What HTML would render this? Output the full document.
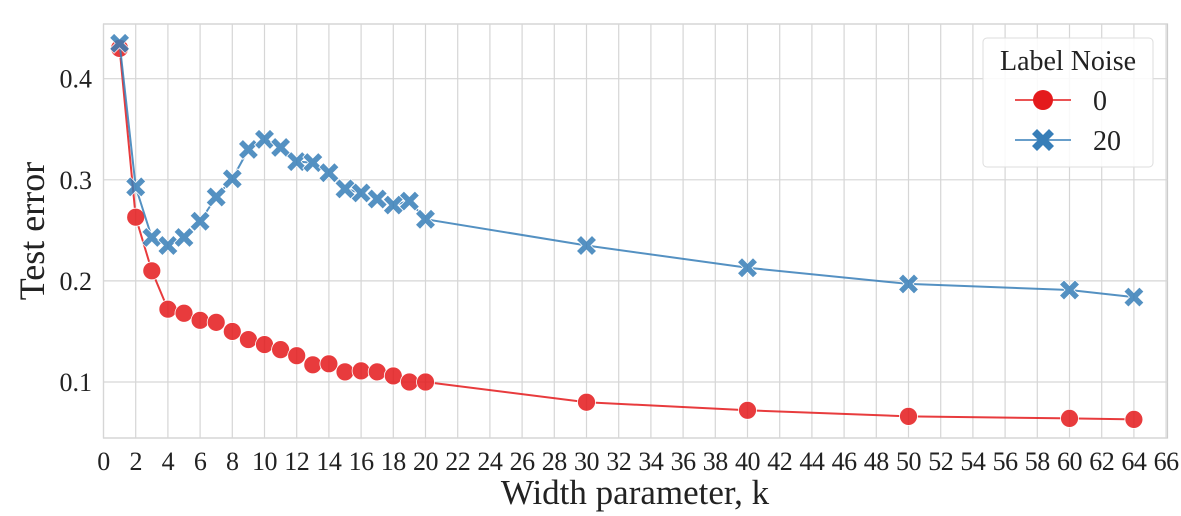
<!DOCTYPE html>
<html><head><meta charset="utf-8"><style>
body{margin:0;background:#fff}
svg{display:block;font-family:"Liberation Serif",serif}
</style></head><body>
<svg id="chart" width="1181" height="516" viewBox="0 0 1181 516">
<rect x="103.5" y="24" width="1064" height="414" fill="#fff" stroke="#ccc" stroke-width="1.2"/>
<g id="grid"></g><g id="series"></g><g id="ticks"></g>
<text x="635" y="504" font-size="35" text-anchor="middle" fill="#222">Width parameter, k</text>
<text transform="translate(44,231) rotate(-90)" font-size="36" text-anchor="middle" fill="#222">Test error</text>
<g>
<rect x="983" y="38" width="170" height="129" rx="4" fill="#fff" fill-opacity="0.85" stroke="#ddd"/>
<text x="1068" y="70" font-size="28" text-anchor="middle" fill="#222">Label Noise</text>
<g>
<line x1="1015" y1="100" x2="1071" y2="100" stroke="#e41a1c" stroke-width="1.5"/>
<circle cx="1043" cy="100" r="10" fill="#e41a1c"/>
<text x="1093" y="110" font-size="28" fill="#222">0</text></g>
<g>
<line x1="1015" y1="140" x2="1071" y2="140" stroke="#377eb8" stroke-width="1.5"/>
<path d="M-6,-11 L0,-5 L6,-11 L11,-6 L5,0 L11,6 L6,11 L0,5 L-6,11 L-11,6 L-5,0 L-11,-6 Z" transform="translate(1043,140)" fill="#377eb8"/>
<text x="1093" y="150" font-size="28" fill="#222">20</text></g>
</g>
</svg>
<script>
const widths=[1,2,3,4,5,6,7,8,9,10,11,12,13,14,15,16,17,18,19,20,30,40,50,60,64];
const noise0=[0.43,0.263,0.21,0.172,0.168,0.161,0.159,0.15,0.142,0.137,0.132,0.126,0.117,0.118,0.11,0.111,0.11,0.106,0.1,0.1,0.08,0.072,0.066,0.064,0.063];
const noise20=[0.435,0.293,0.243,0.235,0.243,0.259,0.283,0.301,0.33,0.34,0.332,0.318,0.317,0.307,0.291,0.287,0.281,0.275,0.279,0.261,0.235,0.213,0.197,0.191,0.184];
const xTicks=[0,2,4,6,8,10,12,14,16,18,20,22,24,26,28,30,32,34,36,38,40,42,44,46,48,50,52,54,56,58,60,62,64,66];
const yTicks=[0.1,0.2,0.3,0.4];
const NS="http://www.w3.org/2000/svg";
const X=k=>103.5+k*16.1;
const Y=v=>483.1-v*1011;
function mk(t,a,p){const e=document.createElementNS(NS,t);for(const k in a)e.setAttribute(k,a[k]);p.appendChild(e);return e;}
const grid=document.getElementById('grid'),ticks=document.getElementById('ticks'),series=document.getElementById('series');
xTicks.forEach(t=>{
 const l=mk('line',{x1:X(t),x2:X(t),y1:24,y2:438,stroke:'#d6d6d6','stroke-width':1.2},grid);
 
 
 const tx=mk('text',{x:X(t),y:470,'font-size':26,'text-anchor':'middle',fill:'#222','letter-spacing':-0.5},ticks);
 tx.textContent=t;
 
 
});
yTicks.forEach(t=>{
 const l=mk('line',{x1:103.5,x2:1167.5,y1:Y(t),y2:Y(t),stroke:'#d6d6d6','stroke-width':1.2},grid);
 
 
 const tx=mk('text',{x:92,y:Y(t)+9,'font-size':26,'text-anchor':'end',fill:'#222'},ticks);
 tx.textContent=t.toFixed(1);
 
 
});
function draw(vals,color,kind,name){
 const g=mk('g',{opacity:0.85},series);
 
 
 const pts=widths.map((k,i)=>X(k)+','+Y(vals[i])).join(' ');
 const pl=mk('polyline',{points:pts,fill:'none',stroke:color,'stroke-width':2},g);
 
 
 widths.forEach((k,i)=>{
  let m;
  if(kind==='o') m=mk('circle',{cx:X(k),cy:Y(vals[i]),r:9,fill:color,stroke:'#fff','stroke-width':0.8},g);
  else m=mk('path',{d:'M-5.5,-10 L0,-4.5 L5.5,-10 L10,-5.5 L4.5,0 L10,5.5 L5.5,10 L0,4.5 L-5.5,10 L-10,5.5 L-4.5,0 L-10,-5.5 Z',transform:'translate('+X(k)+','+Y(vals[i])+')',fill:color,stroke:'#fff','stroke-width':0.8},g);
  
  
 });
}
draw(noise0,'#e41a1c','o','series-noise-0');
draw(noise20,'#377eb8','x','series-noise-20');
</script>
</body></html>
